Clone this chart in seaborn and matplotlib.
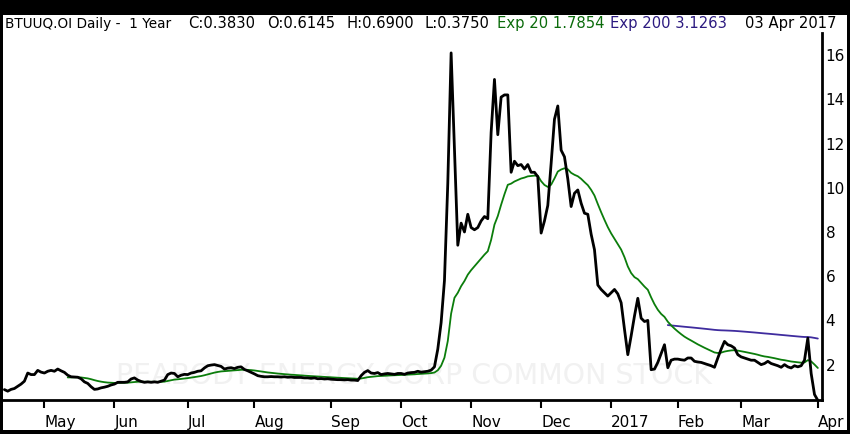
import numpy as np
import pandas as pd
import matplotlib
matplotlib.use("Agg")
import matplotlib.pyplot as plt
from matplotlib.patches import Rectangle
import seaborn as sns

# ---------------- data (daily closes) ----------------
close_apr16 = [0.87, 0.80, 0.88, 0.92, 1.02, 1.12, 1.25, 1.62, 1.55, 1.55, 1.74, 1.66]
close_may16 = [1.62, 1.70, 1.74, 1.70, 1.80, 1.72, 1.65, 1.52, 1.45, 1.44, 1.43,
               1.36, 1.22, 1.15, 1.00, 0.88, 0.90, 0.95, 0.98, 1.02, 1.08]
close_jun16 = [1.12, 1.20, 1.20, 1.20, 1.22, 1.35, 1.40, 1.30, 1.24, 1.20, 1.22,
               1.20, 1.22, 1.20, 1.25, 1.30, 1.55, 1.62, 1.60, 1.45, 1.52, 1.56]
close_jul16 = [1.55, 1.62, 1.65, 1.70, 1.72, 1.85, 1.95, 1.98, 2.00, 1.96,
               1.92, 1.80, 1.84, 1.86, 1.82, 1.88, 1.90, 1.78, 1.72, 1.65]
close_aug16 = [1.58, 1.50, 1.47, 1.45, 1.45, 1.46, 1.45, 1.45, 1.44, 1.45, 1.43, 1.44,
               1.42, 1.42, 1.42, 1.40, 1.40, 1.38, 1.40, 1.36, 1.37, 1.35, 1.36]
close_sep16 = [1.34, 1.33, 1.32, 1.32, 1.31, 1.32, 1.30, 1.30, 1.28, 1.50, 1.65,
               1.73, 1.62, 1.60, 1.64, 1.55, 1.58, 1.60, 1.58, 1.56, 1.60]
close_oct16 = [1.60, 1.56, 1.62, 1.64, 1.65, 1.70, 1.66, 1.68, 1.70, 1.75, 1.90,
               2.70, 3.90, 5.80, 10.2, 16.1, 11.8, 7.40, 8.40, 8.00, 8.80]
close_nov16 = [8.20, 8.10, 8.20, 8.50, 8.70, 8.60, 12.5, 14.9, 12.4, 14.1, 14.2,
               14.2, 10.7, 11.2, 11.0, 11.05, 10.85, 11.05, 10.7, 10.7, 10.5]
close_dec16 = [7.95, 8.50, 9.20, 11.1, 13.1, 13.7, 11.7, 11.4, 10.4, 9.15, 9.75,
               9.90, 9.30, 8.85, 8.80, 7.90, 7.20, 5.60, 5.40, 5.25, 5.10]
close_jan17 = [5.25, 5.40, 5.20, 4.80, 3.60, 2.45, 3.30, 4.20, 5.00, 4.10,
               3.95, 4.00, 1.77, 1.80, 2.10, 2.50, 2.90, 1.86, 2.20, 2.25]
close_feb17 = [2.25, 2.22, 2.20, 2.30, 2.30, 2.15, 2.12, 2.10, 2.05, 2.00,
               1.95, 1.88, 2.30, 2.70, 3.05, 2.90, 2.85, 2.75, 2.45]
close_mar17 = [2.35, 2.30, 2.25, 2.20, 2.20, 2.10, 2.00, 2.05, 2.15, 2.05, 2.00, 1.95,
               1.88, 2.00, 1.90, 1.85, 1.95, 1.90, 1.95, 2.20, 3.20, 1.60, 0.65]
close_apr17 = [0.383]

start_date = "2016-04-14"
end_date = "2017-04-03"
nyse_holidays = ["2016-05-30", "2016-07-04", "2016-09-05", "2016-11-24",
                 "2016-12-26", "2017-01-02", "2017-01-16", "2017-02-20"]

month_labels = ["May", "Jun", "Jul", "Aug", "Sep", "Oct", "Nov", "Dec",
                "2017", "Feb", "Mar", "Apr"]
y_ticks = [2, 4, 6, 8, 10, 12, 14, 16]

header_title = "BTUUQ.OI Daily -  1 Year"
header_ohlc = ["C:0.3830", "O:0.6145", "H:0.6900", "L:0.3750"]
header_exp20 = "Exp 20 1.7854"
header_exp200 = "Exp 200 3.1263"
header_date = "03 Apr 2017"
watermark = "PEABODY ENERGY CORP COMMON STOCK"

# ---------------- build frame ----------------
closes = (close_apr16 + close_may16 + close_jun16 + close_jul16 + close_aug16 +
          close_sep16 + close_oct16 + close_nov16 + close_dec16 + close_jan17 +
          close_feb17 + close_mar17 + close_apr17)
dates = pd.bdate_range(start_date, end_date, freq="C", holidays=nyse_holidays)
n = min(len(dates), len(closes))
df = pd.DataFrame({"date": dates[:n], "close": closes[:n]})
df["idx"] = np.arange(n)


def ema_sma_seed(values, span):
    values = np.asarray(values, dtype=float)
    out = np.full(len(values), np.nan)
    if len(values) < span:
        return out
    alpha = 2.0 / (span + 1)
    out[span - 1] = values[:span].mean()
    for i in range(span, len(values)):
        out[i] = out[i - 1] + alpha * (values[i] - out[i - 1])
    return out


df["ema20"] = ema_sma_seed(df["close"], 20)
df["ema200"] = ema_sma_seed(df["close"], 200)

# month tick positions: first trading day of each month
first_of_month = df.groupby(df["date"].dt.to_period("M"))["idx"].min()
tick_pos = list(first_of_month.values[1:])

# ---------------- plot ----------------
sns.set_theme(style="white")
plt.rcParams["font.family"] = ["DejaVu Sans"]

W, H = 850, 434
fig = plt.figure(figsize=(W / 100, H / 100), dpi=100)
fig.patch.set_facecolor("white")

ax_left, ax_right, ax_bottom, ax_top = 3, 821.5, 400, 33
ax = fig.add_axes([ax_left / W, 1 - ax_bottom / H,
                   (ax_right - ax_left) / W, (ax_bottom - ax_top) / H])

ax.text(0.5015, 0.065, watermark, transform=ax.transAxes, ha="center", va="center",
        fontsize=20.5, color="#f1f1f1", zorder=0)

sns.lineplot(data=df, x="idx", y="ema200", ax=ax, color="#3f2c9e", lw=1.3, zorder=2)
sns.lineplot(data=df, x="idx", y="ema20", ax=ax, color="#0b7d0b", lw=1.3, zorder=3)
sns.lineplot(data=df, x="idx", y="close", ax=ax, color="black", lw=2.0, zorder=4)

ax.set_xlim(-0.42, 245.1)
ax.set_ylim(0.40, 17.0)
ax.set_xlabel("")
ax.set_ylabel("")

for s in ["left", "top"]:
    ax.spines[s].set_visible(False)
for s in ["right", "bottom"]:
    ax.spines[s].set_visible(True)
    ax.spines[s].set_color("black")
    ax.spines[s].set_linewidth(2)

ax.yaxis.tick_right()
ax.set_yticks(y_ticks)
ax.set_yticklabels([str(v) for v in y_ticks])
ax.tick_params(axis="y", length=0, pad=3, labelsize=11, labelcolor="black",
               right=True, left=False, labelright=True, labelleft=False)

ax.set_xticks(tick_pos)
ax.set_xticklabels(month_labels[:len(tick_pos)])
ax.tick_params(axis="x", direction="out", length=5.5, width=1.5, color="black",
               pad=5, labelsize=11, labelcolor="black", bottom=True)
for lbl in ax.get_xticklabels():
    lbl.set_ha("left")
ax.grid(False)

# header
hy = 1 - 28 / H
hfs = 10.6
fig.text(5 / W, hy, header_title, ha="left", va="baseline", fontsize=9.8, color="black")
for px, tok in zip([188, 267.5, 346, 425], header_ohlc):
    fig.text(px / W, hy, tok, ha="left", va="baseline", fontsize=hfs, color="black")
fig.text(497 / W, hy, header_exp20, ha="left", va="baseline", fontsize=hfs, color="#0b6b0b")
fig.text(610 / W, hy, header_exp200, ha="left", va="baseline", fontsize=hfs, color="#2c1a80")
fig.text(745 / W, hy, header_date, ha="left", va="baseline", fontsize=hfs, color="black")

# outer black frame (thick top band, thin sides)
frame_parts = [(0, 0, W, 15), (0, 0, 3, H), (W - 3, 0, 3, H), (0, H - 4, W, 4)]
for (x0, y0, w, h) in frame_parts:
    fig.patches.append(Rectangle((x0 / W, 1 - (y0 + h) / H), w / W, h / H,
                                 transform=fig.transFigure, facecolor="black",
                                 edgecolor="none", zorder=10))

fig.savefig("out.png", dpi=100, facecolor=fig.get_facecolor())
